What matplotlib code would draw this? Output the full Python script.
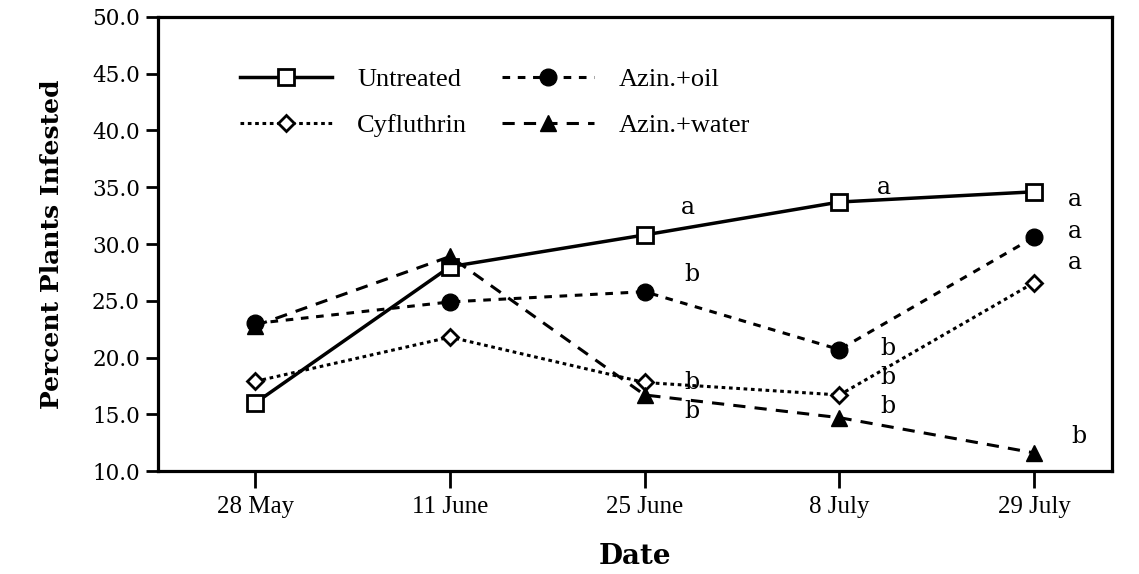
import matplotlib
matplotlib.use("Agg")
import matplotlib.pyplot as plt

# ---- data ----
dates = ["28 May", "11 June", "25 June", "8 July", "29 July"]
untreated = [16.0, 28.0, 30.8, 33.7, 34.6]
cyfluthrin = [17.9, 21.8, 17.8, 16.7, 26.6]
azin_oil = [23.0, 24.9, 25.8, 20.7, 30.6]
azin_water = [22.8, 28.9, 16.7, 14.7, 11.6]

# significance letters: (text, x position in date index units, y value)
letter_txt = ["a", "a", "a", "a", "a", "b", "b", "b", "b", "b", "b", "b"]
letter_x = [2.22, 3.23, 4.21, 4.21, 4.21, 2.24, 2.24, 2.24, 3.25, 3.25, 3.25, 4.23]
letter_y = [33.2, 35.0, 33.9, 31.1, 28.4, 27.3, 17.8, 15.2, 20.8, 18.2, 15.7, 13.0]

SERIF_T = "Liberation Serif"
SERIF_C = "DejaVu Serif"

fig = plt.figure(figsize=(11.39, 5.74), dpi=100)
ax = fig.add_axes([0.1387, 0.1794, 0.8376, 0.791])

x = range(len(dates))
ax.plot(x, untreated, color="black", lw=2.5, ls="-", marker="s", ms=12,
        mfc="white", mec="black", mew=2, label="Untreated", zorder=3)
ax.plot(x, cyfluthrin, color="black", lw=2.2, ls=(0, (1.2, 1.2)), marker="D", ms=8,
        mfc="white", mec="black", mew=2, label="Cyfluthrin", zorder=3)
ax.plot(x, azin_oil, color="black", lw=2.2, ls=(0, (2.5, 2.5)), marker="o", ms=12,
        mfc="black", mec="black", label="Azin.+oil", zorder=3)
ax.plot(x, azin_water, color="black", lw=2.2, ls=(0, (4, 3)), marker="^", ms=12,
        mfc="black", mec="black", label="Azin.+water", zorder=3)

for t, lx, ly in zip(letter_txt, letter_x, letter_y):
    ax.text(lx, ly, t, fontsize=17, family=SERIF_C, ha="center", va="center")

ax.set_xlim(-0.5, 4.4)
ax.set_ylim(10, 50)
ax.set_yticks([10, 15, 20, 25, 30, 35, 40, 45, 50])
ax.set_yticklabels([f"{v:.1f}" for v in ax.get_yticks()], family=SERIF_C, fontsize=15.5)
ax.set_xticks(list(x))
ax.set_xticklabels(dates, family=SERIF_T, fontsize=18)
ax.tick_params(axis="y", direction="out", length=9, width=2, pad=4)
ax.tick_params(axis="x", direction="out", length=12, width=2, pad=6)
for s in ax.spines.values():
    s.set_linewidth(2.3)

ax.set_ylabel("Percent Plants Infested", family=SERIF_C, fontweight="heavy",
              fontsize=18, labelpad=20)
ax.set_xlabel("Date", family=SERIF_C, fontweight="heavy", fontsize=20, labelpad=18)

leg = ax.legend(ncol=2, loc="upper left", bbox_to_anchor=(0.061, 0.94),
                frameon=False, handlelength=3.5, handletextpad=0.95,
                columnspacing=1.3, labelspacing=0.85,
                prop={"family": SERIF_T, "size": 19})

fig.savefig("out.png", dpi=100)
